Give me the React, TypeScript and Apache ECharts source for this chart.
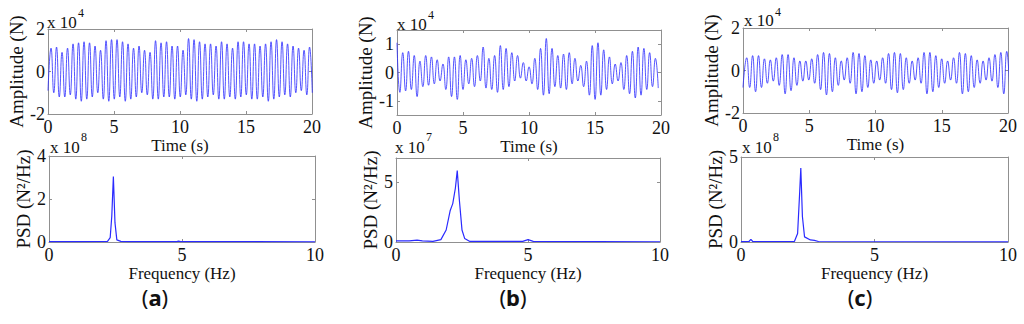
import React, { useEffect, useRef } from "react";
import * as echarts from "echarts";

// ---------- DATA ----------
// Time signals: successive peak / trough amplitudes (x 10^4 N), one per cycle
const ampAStart = -0.9;
const ampATiming = [0.23, 0.4167]; // first peak time (s), cycle period (s)
const ampAPeaks = [
  1.1, 1.15, 0.9, 1.1, 1.3, 1.35, 1.4, 1.35, 1.2, 1.0,
  1.45, 1.5, 1.5, 1.4, 1.3, 1.1, 1.2, 1.0, 0.9, 1.45,
  1.35, 1.4, 1.2, 1.2, 1.0, 1.55, 1.5, 1.4, 1.3, 1.3,
  1.2, 1.4, 1.3, 1.1, 1.4, 1.4, 1.3, 1.3, 1.2, 1.3,
  1.4, 1.5, 1.4, 1.3, 1.2, 1.1, 1.0, 1.15,
];
const ampATroughs = [
  -1.0, -1.2, -1.2, -1.1, -1.3, -1.4, -1.3, -1.2, -1.0, -1.3,
  -1.4, -1.3, -1.2, -1.4, -1.3, -1.2, -1.0, -1.1, -1.3, -1.3,
  -1.2, -1.2, -1.3, -1.2, -1.1, -1.3, -1.4, -1.3, -1.2, -1.1,
  -1.3, -1.3, -1.2, -1.3, -1.2, -1.1, -1.3, -1.3, -1.2, -1.4,
  -1.3, -1.2, -1.1, -1.2, -1.0, -0.9, -1.1, -1.0,
];

const ampBStart = 1.05;
const ampBTiming = [0.0, 0.435];
const ampBPeaks = [
  1.05, 0.7, 0.75, 0.6, 0.4, 0.6, 0.55, 0.45, 0.3, 0.55,
  0.55, 0.6, 0.45, 0.5, 0.6, 0.9, 0.5, 0.6, 0.95, 0.85,
  0.7, 0.6, 0.35, 0.2, 0.5, 0.85, 1.2, 0.85, 0.6, 0.65,
  0.7, 0.5, 0.25, 0.4, 0.95, 1.05, 0.8, 0.55, 0.3, 0.35,
  0.6, 0.75, 0.9, 0.85, 0.7, 0.5,
];
const ampBTroughs = [
  -0.7, -0.65, -0.6, -0.85, -0.5, -0.45, -0.4, -0.3, -0.6, -0.85,
  -0.95, -0.6, -0.4, -0.5, -0.3, -0.55, -0.6, -0.7, -0.6, -0.5,
  -0.3, -0.2, -0.3, -0.4, -0.6, -0.8, -0.75, -0.5, -0.55, -0.6,
  -0.4, -0.3, -0.5, -0.8, -0.95, -0.8, -0.6, -0.4, -0.3, -0.6,
  -0.75, -0.9, -0.8, -0.6, -0.5, -0.55,
];

const ampCStart = -0.8;
const ampCTiming = [0.28, 0.446];
const ampCPeaks = [
  0.6, 0.7, 0.7, 0.55, 0.5, 0.6, 0.75, 0.75, 0.6, 0.45,
  0.45, 0.55, 0.75, 0.85, 0.8, 0.6, 0.45, 0.6, 0.85, 0.8,
  0.7, 0.5, 0.45, 0.6, 0.8, 0.85, 0.8, 0.6, 0.45, 0.6,
  0.85, 0.85, 0.7, 0.55, 0.45, 0.6, 0.85, 0.8, 0.7, 0.5,
  0.45, 0.6, 0.75, 0.85, 0.9,
];
const ampCTroughs = [
  -0.8, -1.0, -0.8, -0.6, -0.5, -0.7, -1.1, -0.95, -0.7, -0.5,
  -0.45, -0.6, -0.9, -1.15, -1.0, -0.7, -0.45, -0.6, -1.1, -1.0,
  -0.8, -0.6, -0.45, -0.6, -0.9, -1.05, -0.9, -0.6, -0.45, -0.6,
  -1.1, -1.0, -0.8, -0.6, -0.45, -0.6, -1.1, -1.0, -0.8, -0.6,
  -0.45, -0.5, -0.8, -1.1, -0.9,
];

// PSD spectra: frequency (Hz) and PSD values (x 10^8, x 10^7, x 10^8)
const psdAFreq = [0, 1.0, 2.2, 2.3, 2.36, 2.42, 2.48, 2.55, 2.7, 3.0, 4.8, 4.87, 4.95, 10];
const psdAVal = [0.02, 0.02, 0.03, 0.2, 1.2, 3.05, 0.9, 0.1, 0.03, 0.02, 0.02, 0.04, 0.02, 0.01];

const psdBFreq = [0, 0.5, 0.8, 1.0, 1.4, 1.7, 1.9, 2.05, 2.15, 2.25, 2.32, 2.4, 2.5, 2.6, 2.8, 4.8, 5.0, 5.2, 10];
const psdBVal = [0.1, 0.1, 0.15, 0.1, 0.05, 0.2, 1.0, 2.6, 3.2, 4.5, 5.95, 3.5, 1.0, 0.3, 0.05, 0.05, 0.2, 0.05, 0.02];

const psdCFreq = [0, 0.3, 0.37, 0.44, 2.0, 2.12, 2.2, 2.24, 2.3, 2.38, 2.6, 2.75, 2.9, 10];
const psdCVal = [0.02, 0.03, 0.15, 0.03, 0.03, 0.5, 3.0, 4.35, 1.5, 0.3, 0.12, 0.1, 0.03, 0.01];

// Axis ranges and tick values
const timeRange = [0, 20];
const timeTicks = [0, 5, 10, 15, 20];
const freqRange = [0, 10];
const freqTicks = [0, 5, 10];
const ampARange = [-2, 2];
const ampATicks = [-2, 0, 2];
const ampBRange = [-1.5, 1.5];
const ampBTicks = [-1, 0, 1];
const ampCRange = [-2, 2];
const ampCTicks = [-2, 0, 2];
const psdARange = [0, 4];
const psdATicks = [0, 2, 4];
const psdBRange = [0, 7];
const psdBTicks = [0, 5];
const psdCRange = [0, 5];
const psdCTicks = [0, 5];

const ampExponent = "4";
const psdExponents = ["8", "7", "8"];
const panelLetters = ["a", "b", "c"];

// ---------- helpers ----------
function buildSignal(start: number, timing: number[], peaks: number[], troughs: number[]) {
  const [t0, p] = timing;
  const out: number[][] = [[0, start]];
  for (let i = 0; i < peaks.length; i++) {
    out.push([t0 + i * p, peaks[i]]);
    if (i < troughs.length) out.push([t0 + (i + 0.5) * p, troughs[i]]);
  }
  return out;
}
function zip(xs: number[], ys: number[]) {
  return xs.map((x, i) => [x, ys[i]]);
}

const FONT = '"Liberation Serif", "Times New Roman", serif';
const AXIS_COLOR = "#909090";
const LINE_COLOR = "#2a2aff";
const TEXT_COLOR = "#111";

export default function App() {
  const ref = useRef<HTMLDivElement>(null);

  useEffect(() => {
    if (!ref.current) return;
    const chart = echarts.init(ref.current, undefined, { renderer: "svg" });

    // layout: [left, top, width, height]
    const grids = [
      [48, 29, 264, 85],
      [49, 156, 266, 86],
      [397, 30, 264, 85],
      [396, 158, 264, 84],
      [743, 28, 265, 85],
      [741, 157, 267, 85],
    ];
    const yNameGaps = [19, 15, 15, 15, 17, 14];

    const panels = [
      { xr: timeRange, xt: timeTicks, xn: "Time (s)", yr: ampARange, yt: ampATicks, yn: "Amplitude (N)", data: buildSignal(ampAStart, ampATiming, ampAPeaks, ampATroughs), w: 0.8 },
      { xr: freqRange, xt: freqTicks, xn: "Frequency (Hz)", yr: psdARange, yt: psdATicks, yn: "PSD (N²/Hz)", data: zip(psdAFreq, psdAVal), w: 1.2 },
      { xr: timeRange, xt: timeTicks, xn: "Time (s)", yr: ampBRange, yt: ampBTicks, yn: "Amplitude (N)", data: buildSignal(ampBStart, ampBTiming, ampBPeaks, ampBTroughs), w: 0.8 },
      { xr: freqRange, xt: freqTicks, xn: "Frequency (Hz)", yr: psdBRange, yt: psdBTicks, yn: "PSD (N²/Hz)", data: zip(psdBFreq, psdBVal), w: 1.2 },
      { xr: timeRange, xt: timeTicks, xn: "Time (s)", yr: ampCRange, yt: ampCTicks, yn: "Amplitude (N)", data: buildSignal(ampCStart, ampCTiming, ampCPeaks, ampCTroughs), w: 0.8 },
      { xr: freqRange, xt: freqTicks, xn: "Frequency (Hz)", yr: psdCRange, yt: psdCTicks, yn: "PSD (N²/Hz)", data: zip(psdCFreq, psdCVal), w: 1.2 },
    ];

    const gridOpt: any[] = [];
    const xAxes: any[] = [];
    const yAxes: any[] = [];
    const series: any[] = [];

    panels.forEach((p, i) => {
      const [l, t, w, h] = grids[i];
      gridOpt.push({ left: l, top: t, width: w, height: h, show: false });
      const line = { show: true, onZero: false, lineStyle: { color: AXIS_COLOR, width: 1 } };
      const tick = { show: true, inside: true, length: 3, lineStyle: { color: AXIS_COLOR }, customValues: p.xt };
      xAxes.push({
        type: "value", gridIndex: i, position: "bottom", min: p.xr[0], max: p.xr[1],
        axisLine: line, axisTick: tick, splitLine: { show: false },
        axisLabel: { customValues: p.xt, color: TEXT_COLOR, fontFamily: FONT, fontSize: 18, margin: 4 },
        name: p.xn, nameLocation: "middle", nameGap: 20,
        nameTextStyle: { color: TEXT_COLOR, fontFamily: FONT, fontSize: 17 },
      });
      xAxes.push({
        type: "value", gridIndex: i, position: "top", min: p.xr[0], max: p.xr[1],
        axisLine: line, axisTick: tick, splitLine: { show: false }, axisLabel: { show: false },
      });
      const ytick = { show: true, inside: true, length: 3, lineStyle: { color: AXIS_COLOR }, customValues: p.yt };
      yAxes.push({
        type: "value", gridIndex: i, position: "left", min: p.yr[0], max: p.yr[1],
        axisLine: line, axisTick: ytick, splitLine: { show: false },
        axisLabel: { customValues: p.yt, color: TEXT_COLOR, fontFamily: FONT, fontSize: 18, margin: 3 },
        name: p.yn, nameLocation: "middle", nameGap: yNameGaps[i],
        nameTextStyle: { color: TEXT_COLOR, fontFamily: FONT, fontSize: 19 },
      });
      yAxes.push({
        type: "value", gridIndex: i, position: "right", min: p.yr[0], max: p.yr[1],
        axisLine: line, axisTick: ytick, splitLine: { show: false }, axisLabel: { show: false },
      });
      series.push({
        type: "line", xAxisIndex: 2 * i, yAxisIndex: 2 * i, data: p.data,
        showSymbol: false, smooth: i % 2 === 0 ? 0.5 : false, clip: true,
        lineStyle: { color: LINE_COLOR, width: p.w }, silent: true,
      });
    });

    const expText = (txt: string, x: number, y: number, size: number) => ({
      type: "text", x, y, z: 10,
      style: { text: txt, fill: TEXT_COLOR, font: `${size}px ${FONT}`, verticalAlign: "middle", align: "left" },
    });

    const expPos = [
      { base: [47, 22], sup: [78, 13] },
      { base: [50, 147], sup: [81, 137] },
      { base: [397, 24], sup: [428, 15] },
      { base: [395, 147], sup: [426, 137] },
      { base: [744, 20], sup: [775, 12] },
      { base: [742, 147], sup: [773, 137] },
    ];
    const graphics: any[] = [];
    expPos.forEach((e, i) => {
      const exp = i % 2 === 0 ? ampExponent : psdExponents[Math.floor(i / 2)];
      graphics.push(expText("x 10", e.base[0], e.base[1], 17));
      graphics.push(expText(exp, e.sup[0], e.sup[1], 12));
    });
    const letterX = [155, 513, 860];
    panelLetters.forEach((ltr, i) => {
      graphics.push({
        type: "text", x: letterX[i], y: 297,
        style: {
          text: `{p|(}{b|${ltr}}{p|)}`,
          align: "center", verticalAlign: "middle",
          rich: {
            p: { fontFamily: '"Noto Sans", "DejaVu Sans", sans-serif', fontSize: 22, fill: TEXT_COLOR },
            b: { fontFamily: '"Noto Sans", "DejaVu Sans", sans-serif', fontSize: 22, fontWeight: "bold", fill: TEXT_COLOR },
          },
        },
      });
    });

    chart.setOption({
      animation: false,
      backgroundColor: "#ffffff",
      grid: gridOpt,
      xAxis: xAxes,
      yAxis: yAxes,
      series,
      graphic: graphics,
    });

    return () => chart.dispose();
  }, []);

  return (
    <div
      ref={ref}
      style={{ position: "absolute", left: 0, top: 0, width: 1024, height: 324, background: "#fff" }}
    />
  );
}
